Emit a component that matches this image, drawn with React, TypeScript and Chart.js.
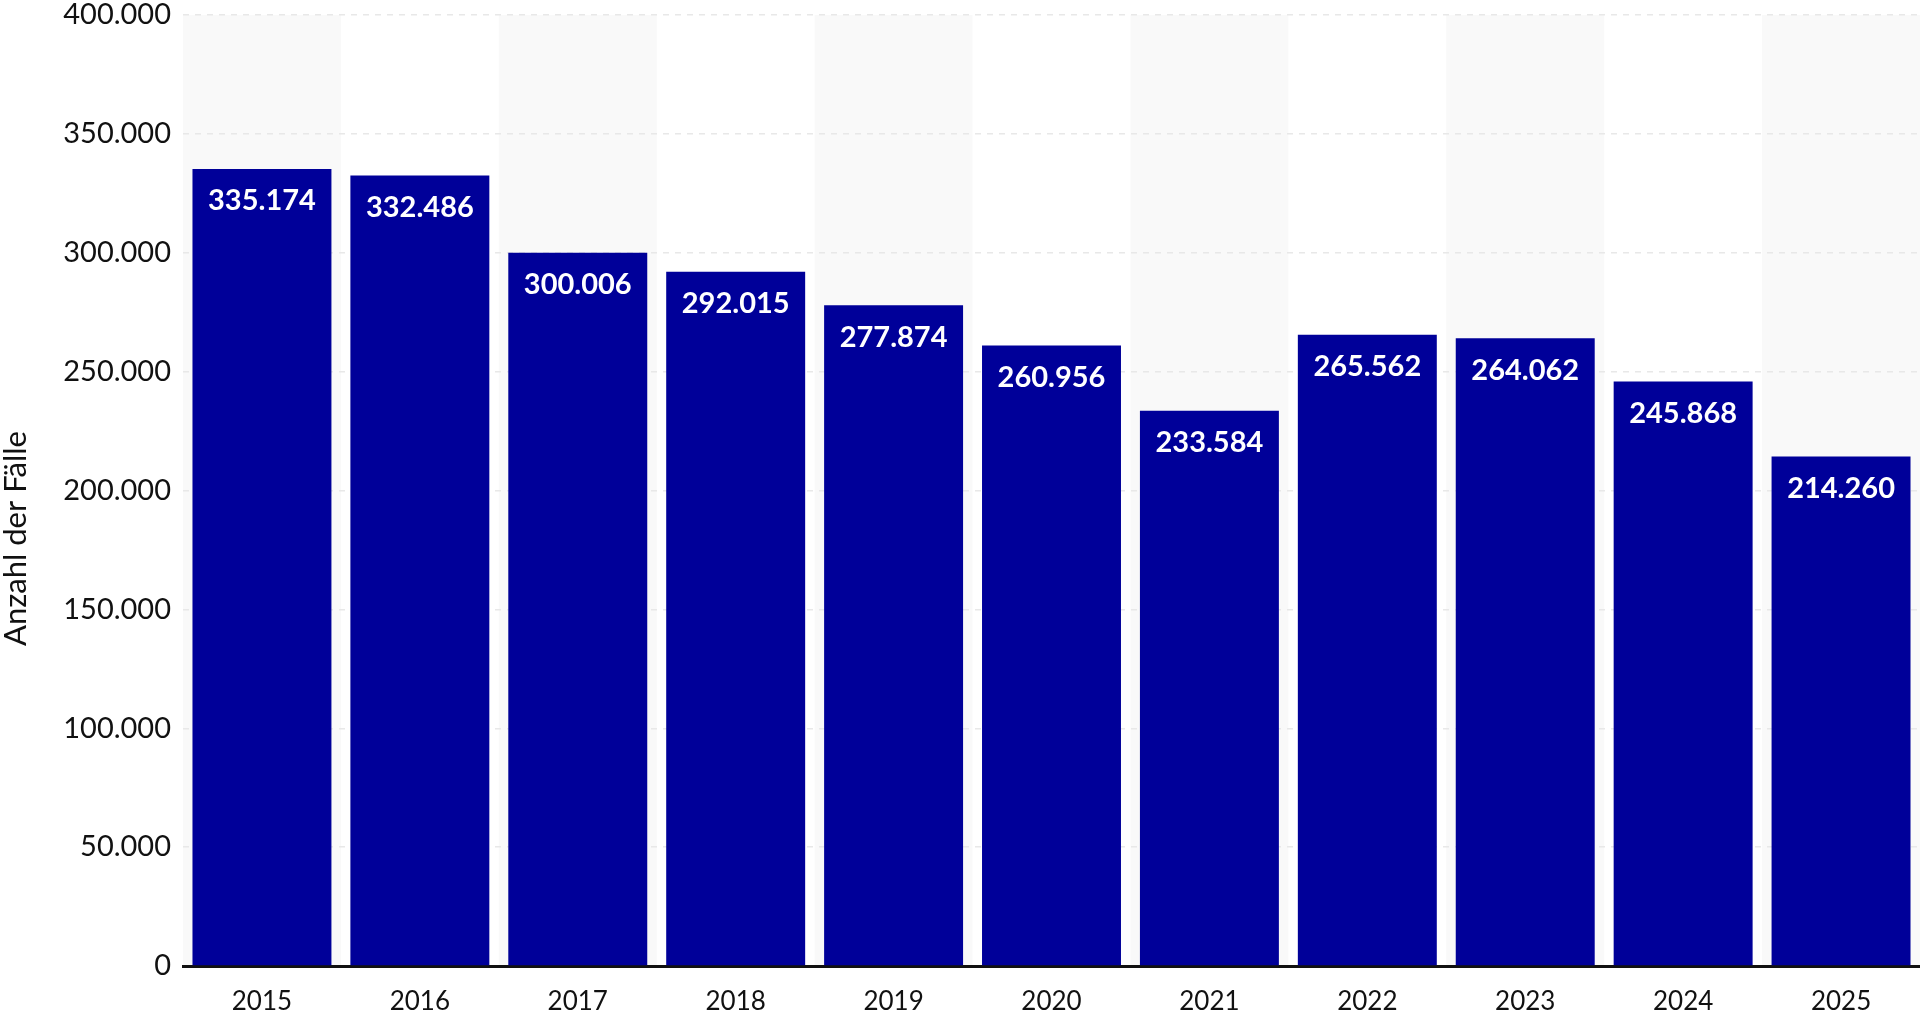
import React, { useEffect, useRef } from "react";
import { Chart, registerables } from "chart.js";

Chart.register(...registerables);

const years = ["2015", "2016", "2017", "2018", "2019", "2020", "2021", "2022", "2023", "2024", "2025"];
const cases = [335174, 332486, 300006, 292015, 277874, 260956, 233584, 265562, 264062, 245868, 214260];
const yTitle = "Anzahl der Fälle";
const yMax = 400000;
const yStep = 50000;

const FONT = "Lato, 'Noto Sans', sans-serif";
const fmt = (v: number) => v.toLocaleString("de-DE");

const stripes = {
  id: "stripes",
  beforeDraw(chart: any) {
    const { ctx, chartArea } = chart;
    const xs = chart.scales.x;
    ctx.save();
    ctx.fillStyle = "#f9f9f9";
    for (let i = 0; i < years.length; i += 2) {
      const w = xs.width / years.length;
      const left = xs.getPixelForValue(i) - w / 2;
      ctx.fillRect(left, chartArea.top, w, chartArea.bottom - chartArea.top);
    }
    ctx.restore();
  },
};

const valueLabels = {
  id: "valueLabels",
  afterDatasetsDraw(chart: any) {
    const { ctx } = chart;
    const meta = chart.getDatasetMeta(0);
    ctx.save();
    ctx.fillStyle = "#ffffff";
    ctx.font = `bold 29px ${FONT}`;
    ctx.textAlign = "center";
    ctx.textBaseline = "middle";
    meta.data.forEach((el: any, i: number) => {
      ctx.fillText(fmt(cases[i]), el.x, el.y + 32);
    });
    ctx.restore();
  },
};

const axisTitle = {
  id: "axisTitle",
  afterDraw(chart: any) {
    const { ctx, chartArea } = chart;
    ctx.save();
    ctx.translate(16, (chartArea.top + chartArea.bottom) / 2 + 48);
    ctx.rotate(-Math.PI / 2);
    ctx.fillStyle = "#111111";
    ctx.font = `31px ${FONT}`;
    ctx.textAlign = "center";
    ctx.textBaseline = "middle";
    ctx.fillText(yTitle, 0, 0);
    ctx.restore();
  },
};

export default function App() {
  const ref = useRef<HTMLCanvasElement | null>(null);
  useEffect(() => {
    document.body.style.margin = "0";
    const chart = new Chart(ref.current!, {
      type: "bar",
      data: {
        labels: years,
        datasets: [
          {
            data: cases,
            backgroundColor: "#000099",
            barPercentage: 0.88,
            categoryPercentage: 1,
          },
        ],
      },
      options: {
        animation: false,
        responsive: false,
        maintainAspectRatio: false,
        layout: { padding: { top: 15, right: 0, left: 0, bottom: 0 } },
        plugins: { legend: { display: false }, tooltip: { enabled: false } },
        scales: {
          x: {
            grid: { display: false, drawTicks: false },
            border: { display: true, color: "#111111", width: 3 },
            ticks: { color: "#111111", font: { family: FONT, size: 26 }, padding: 20, maxRotation: 0 },
            afterFit(scale: any) {
              scale.height = 52;
              scale.paddingLeft = 0;
              scale.paddingRight = 0;
            },
          },
          y: {
            min: 0,
            max: yMax,
            ticks: {
              stepSize: yStep,
              color: "#111111",
              font: { family: FONT, size: 29 },
              padding: 12,
              callback: (v: any) => fmt(Number(v)),
            },
            grid: { color: "#e8e8e8", lineWidth: 1.5, drawTicks: false },
            border: { display: false, dash: [6, 6] },
            title: { display: false },
            afterFit(scale: any) {
              scale.width = 183;
              scale.paddingTop = 0;
              scale.paddingBottom = 0;
            },
          },
        },
      },
      plugins: [stripes, valueLabels, axisTitle],
    });
    return () => chart.destroy();
  }, []);
  return <canvas ref={ref} width={1920} height={1018} style={{ display: "block" }} />;
}
